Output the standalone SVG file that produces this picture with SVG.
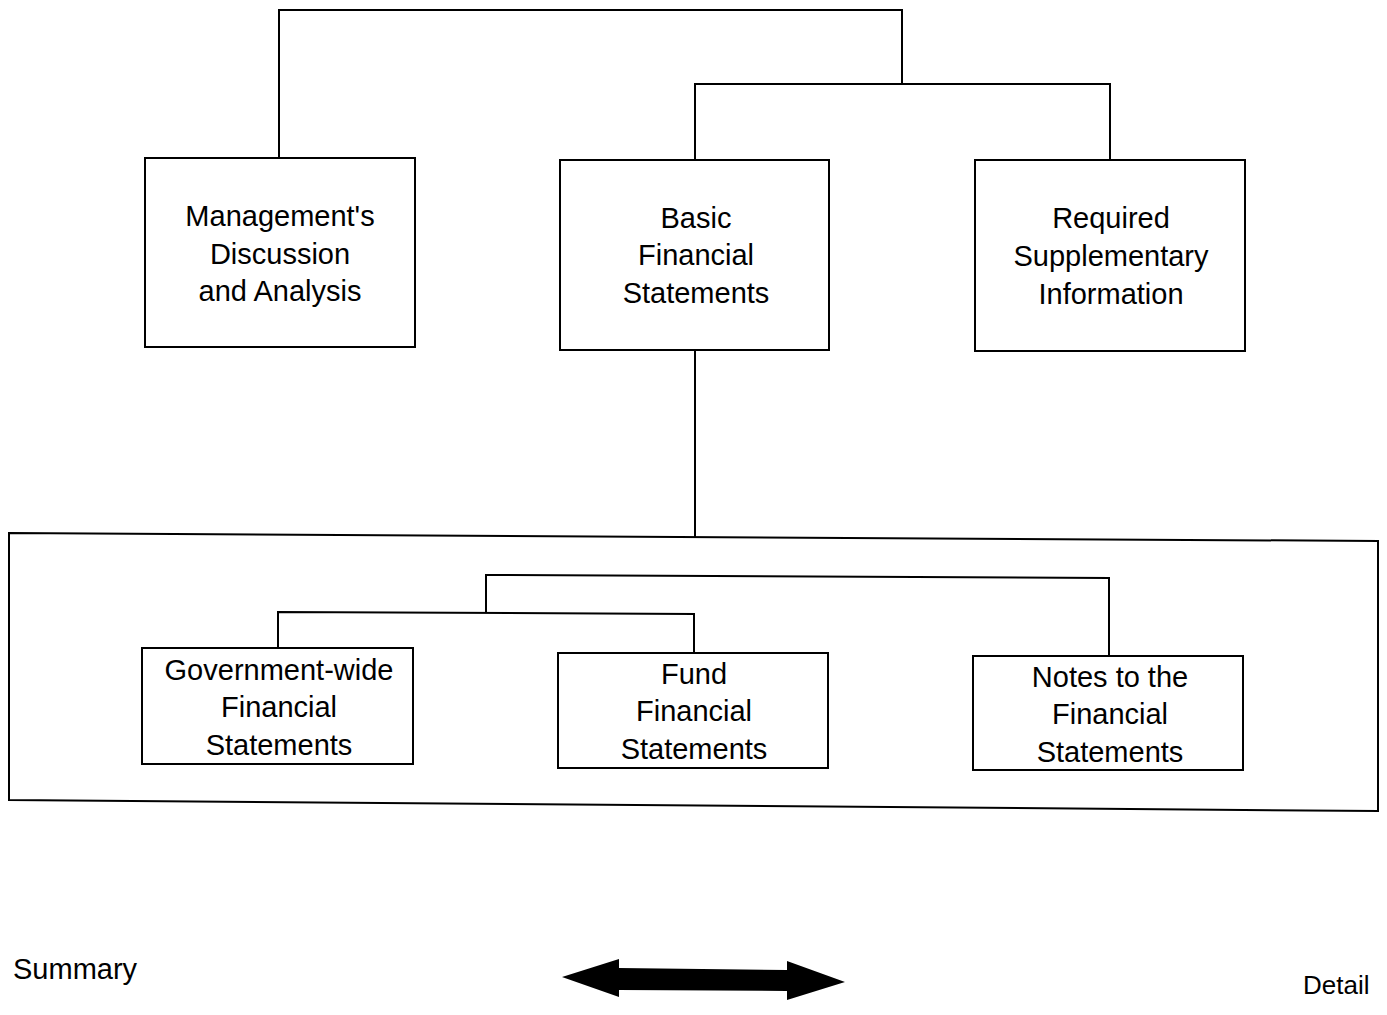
<svg xmlns="http://www.w3.org/2000/svg" width="1387" height="1015" viewBox="0 0 1387 1015">
<style>
.box{fill:#fff;stroke:#000;stroke-width:2}
.ln{fill:none;stroke:#000;stroke-width:2}
text{font-family:"Liberation Sans",Arial,sans-serif;font-size:29px;fill:#000;text-anchor:middle}
.lbl{text-anchor:start}
</style>
<rect width="1387" height="1015" fill="#fff"/>
<g id="container">
<polygon class="ln" points="9,533 1378,541 1378,811 9,800"/>
</g>
<g id="connectors">
<polyline class="ln" points="279,158 279,10 902,10 902,84"/>
<polyline class="ln" points="695,160 695,84 1110,84 1110,160"/>
<line class="ln" x1="695" y1="350" x2="695" y2="537"/>
<polyline class="ln" points="278,648 278,612 694,614 694,653"/>
<polyline class="ln" points="486,613 486,575 1109,578 1109,656"/>
</g>
<g id="mda">
<rect class="box" x="145" y="158" width="270" height="189"/>
<text x="280" y="226">Management's</text>
<text x="280" y="264">Discussion</text>
<text x="280" y="301">and Analysis</text>
</g>
<g id="bfs">
<rect class="box" x="560" y="160" width="269" height="190"/>
<text x="696" y="228">Basic</text>
<text x="696" y="265">Financial</text>
<text x="696" y="303">Statements</text>
</g>
<g id="rsi">
<rect class="box" x="975" y="160" width="270" height="191"/>
<text x="1111" y="228">Required</text>
<text x="1111" y="266">Supplementary</text>
<text x="1111" y="304">Information</text>
</g>
<g id="gov">
<rect class="box" x="142" y="648" width="271" height="116"/>
<text x="279" y="680">Government-wide</text>
<text x="279" y="717">Financial</text>
<text x="279" y="755">Statements</text>
</g>
<g id="fund">
<rect class="box" x="558" y="653" width="270" height="115"/>
<text x="694" y="684">Fund</text>
<text x="694" y="721">Financial</text>
<text x="694" y="759">Statements</text>
</g>
<g id="notes">
<rect class="box" x="973" y="656" width="270" height="114"/>
<text x="1110" y="687">Notes to the</text>
<text x="1110" y="724">Financial</text>
<text x="1110" y="762">Statements</text>
</g>
<g id="summary"><text class="lbl" x="13" y="979">Summary</text></g>
<g id="detail"><text class="lbl" x="1303" y="994" style="font-size:26px">Detail</text></g>
<g id="arrow">
<polygon fill="#000" points="562,977 619,959 619,968 787,970 787,961 845,982 787,1000 787,991 619,990 619,997"/>
</g>
</svg>
